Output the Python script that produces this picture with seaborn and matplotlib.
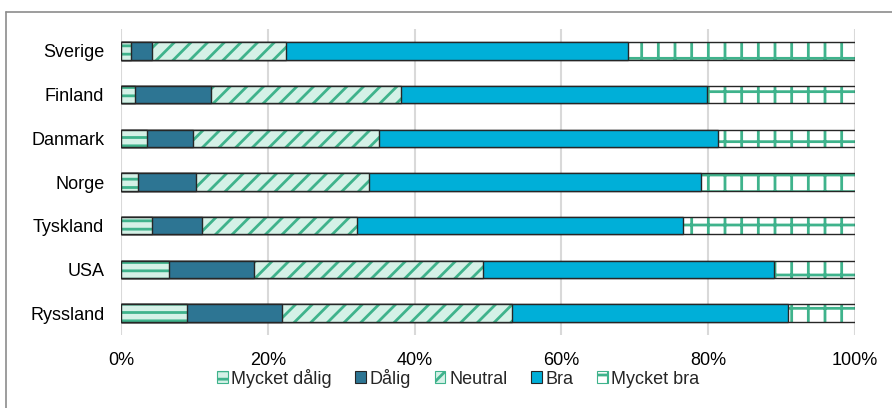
import numpy as np
import pandas as pd
import matplotlib
matplotlib.use("Agg")
import matplotlib.pyplot as plt
from matplotlib.patches import Patch
from matplotlib.lines import Line2D
from matplotlib.ticker import PercentFormatter
import seaborn as sns

# data (percent of answers per country)
lander = ["Sverige", "Finland", "Danmark", "Norge", "Tyskland", "USA", "Ryssland"]
mycket_dalig = [1.4, 1.9, 3.6, 2.3, 4.2, 6.5, 9.0]
dalig = [2.8, 10.4, 6.2, 7.9, 6.8, 11.6, 12.9]
neutral = [18.3, 25.8, 25.3, 23.6, 21.1, 31.2, 31.4]
bra = [46.6, 41.7, 46.2, 45.2, 44.5, 39.6, 37.6]
mycket_bra = [30.9, 20.2, 18.7, 21.0, 23.4, 11.1, 9.1]

serier = ["Mycket dålig", "Dålig", "Neutral", "Bra", "Mycket bra"]
varden = [mycket_dalig, dalig, neutral, bra, mycket_bra]

#styles
fyll = ["#d5f1e7", "#2d7593", "#d5f1e7", "#00afd8", "#ffffff"]
monster = ["--", None, "//", None, "+"]
gron = "#3fb38c"
kant = "#262626"

sns.set_style("white")
plt.rcParams["font.family"] = ["Liberation Sans", "DejaVu Sans"]
plt.rcParams["hatch.linewidth"] = 2.0

#cumulative table so the stacked bars can be drawn from the back
df = pd.DataFrame({"land": lander})
for s, v in zip(serier, varden):
    df[s] = v
kum = df[serier].cumsum(axis=1)
kum["land"] = lander

fig = plt.figure(figsize=(8.92, 4.08), dpi=100)
ax = fig.add_axes([121 / 892, 1 - 335 / 408, (855 - 121) / 892, (335 - 29) / 408])

for i in reversed(range(len(serier))):
    s = serier[i]
    #fill + hatch layer
    sns.barplot(data=kum, x=s, y="land", orient="h", color=fyll[i], saturation=1,
                width=0.4, hatch=monster[i], edgecolor=gron if monster[i] else fyll[i],
                linewidth=0, errorbar=None, ax=ax)
    #outline layer
    sns.barplot(data=kum, x=s, y="land", orient="h", fill=False, color=kant, saturation=1,
                width=0.4, linewidth=1, errorbar=None, ax=ax)

#format axes
ax.set_xlim(0, 100)
ax.set_xticks(range(0, 101, 20))
ax.xaxis.set_major_formatter(PercentFormatter(100, decimals=0))
ax.set_xlabel("")
ax.set_ylabel("")
ax.grid(axis="x", color="#d9d9d9", linewidth=1.5)
ax.grid(axis="y", visible=False)
ax.set_axisbelow(True)
for sp in ax.spines.values():
    sp.set_visible(False)
ax.tick_params(length=0, labelsize=13, pad=12, colors="#000000")

#legend
handles = [Patch(facecolor=fyll[i], edgecolor=gron if monster[i] else kant,
                 hatch=monster[i], linewidth=0.8) for i in range(len(serier))]
fig.legend(handles, serier, loc="center", bbox_to_anchor=(458 / 892, 1 - 378 / 408),
           ncol=5, frameon=False, fontsize=13, handlelength=0.6, handleheight=0.6,
           handletextpad=0.2, columnspacing=1.3, borderpad=0)

#chart border (top and left visible)
fig.add_artist(Line2D([6 / 892, 6 / 892], [0, 1 - 12 / 408], color="#8c8c8c", lw=1.2,
                      transform=fig.transFigure))
fig.add_artist(Line2D([6 / 892, 1], [1 - 12 / 408, 1 - 12 / 408], color="#8c8c8c", lw=1.2,
                      transform=fig.transFigure))

fig.savefig("out.png", dpi=100)
